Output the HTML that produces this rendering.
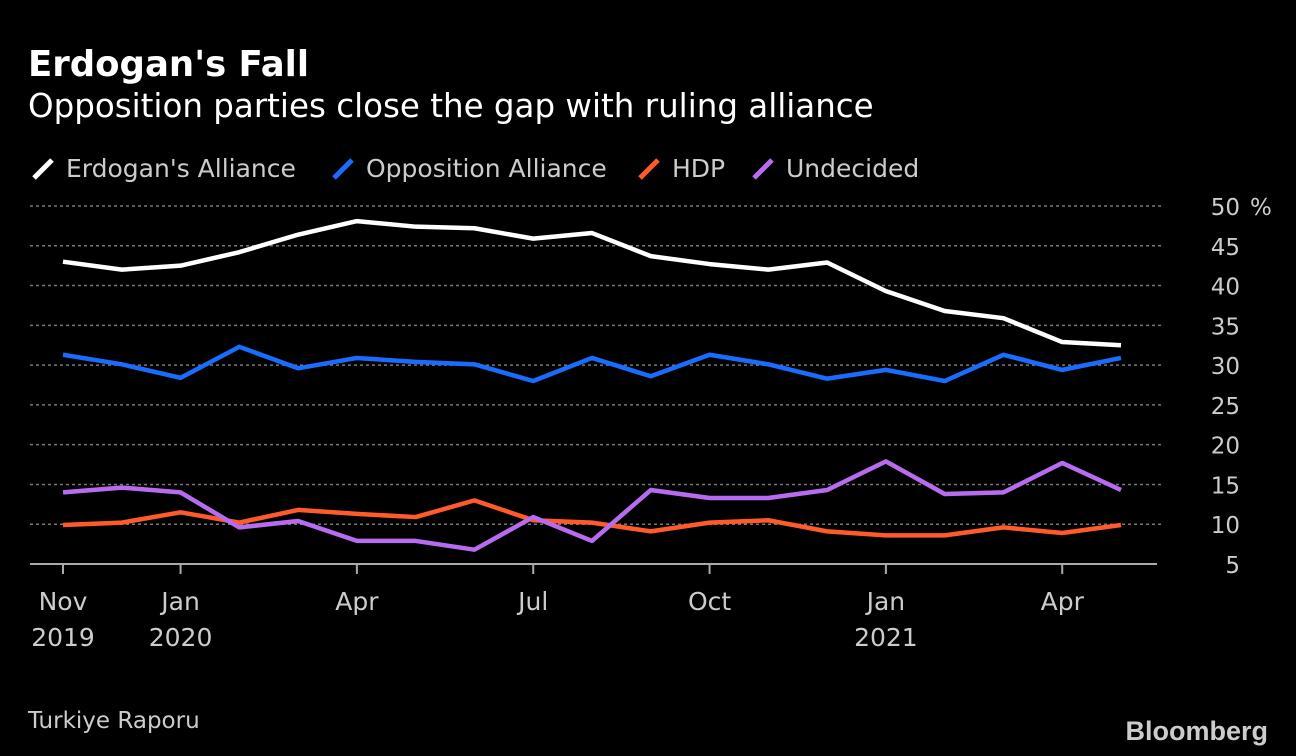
<!DOCTYPE html>
<html><head><meta charset="utf-8"><style>
body{margin:0;background:#000;width:1296px;height:756px;overflow:hidden;font-family:"DejaVu Sans",sans-serif;color:#fff}
svg{position:absolute;left:0;top:0;font-family:"DejaVu Sans",sans-serif}
</style></head><body>
<svg width="1296" height="756" id="c">
<text x="28" y="76" font-size="35.5" font-weight="bold" fill="#fff">Erdogan's Fall</text>
<text x="28" y="117" font-size="32.5" fill="#fff">Opposition parties close the gap with ruling alliance</text>
<text x="28" y="728" font-size="23" fill="#ccc">Turkiye Raporu</text>
<text x="1268" y="740" font-size="27" font-weight="bold" fill="#ccc" text-anchor="end" font-family="Liberation Sans">Bloomberg</text>
<g id="legend"></g>
<g id="grid"></g><g id="lines"></g>
</svg>
<script>
const months=["Nov","Dec","Jan","Feb","Mar","Apr","May","Jun","Jul","Aug","Sep","Oct","Nov","Dec","Jan","Feb","Mar","Apr","May"];
const erdogan=[43,42,42.5,44.2,46.4,48.1,47.4,47.2,45.9,46.6,43.7,42.7,42.0,42.9,39.3,36.8,35.9,32.9,32.5];
const opposition=[31.3,30.1,28.4,32.3,29.6,30.9,30.4,30.1,28.0,30.9,28.6,31.3,30.1,28.3,29.4,28.0,31.3,29.4,30.9];
const hdp=[9.9,10.2,11.5,10.2,11.8,11.3,10.9,13.0,10.5,10.2,9.1,10.2,10.5,9.1,8.6,8.6,9.6,8.9,9.9];
const undecided=[14.0,14.6,14.0,9.6,10.4,7.9,7.9,6.8,10.9,7.9,14.3,13.3,13.3,14.3,17.9,13.8,14.0,17.7,14.3];
const yTicks=[5,10,15,20,25,30,35,40,45,50];
const xLabelIdx=[0,2,5,8,11,14,17];
const xLabels=[["Nov","2019"],["Jan","2020"],["Apr",""],["Jul",""],["Oct",""],["Jan","2021"],["Apr",""]];
const series=[["erdogans-alliance","Erdogan's Alliance","#fff",erdogan],["opposition-alliance","Opposition Alliance","#1a6cff",opposition],["hdp","HDP","#ff5a2a",hdp],["undecided","Undecided","#b76cf0",undecided]];
const NS="http://www.w3.org/2000/svg";
const x=i=>63+i*(1121-63)/18;
const y=v=>564-(v-5)*(564-206)/45;
function mk(t,a,p){const e=document.createElementNS(NS,t);for(const k in a)e.setAttribute(k,a[k]);p.appendChild(e);return e;}
const g=document.getElementById('grid');
yTicks.forEach((v,i)=>{
 if(v>5){const l=mk('line',{x1:30,x2:1163,y1:y(v),y2:y(v),stroke:'#777','stroke-width':1.5,'stroke-dasharray':'3,3'},g);
 
 }
 const t=mk('text',{x:1240,y:y(v)+9,'font-size':23,fill:'#ccc','text-anchor':'end'},g);
 t.textContent=v;
 
 
 if(v==50){const p=mk('text',{x:1250,y:y(v)+9,'font-size':23,fill:'#ccc'},g);p.textContent='%';
 
 }
});
const ax=mk('line',{x1:30,x2:1157,y1:564,y2:564,stroke:'#aaa','stroke-width':2},g);


xLabelIdx.forEach((idx,k)=>{
 const tk=mk('line',{x1:x(idx),x2:x(idx),y1:564,y2:574,stroke:'#aaa','stroke-width':2},g);
 
 
 xLabels[k].forEach((s,j)=>{if(!s)return;const t=mk('text',{x:x(idx),y:610+j*36,'font-size':25,fill:'#ccc','text-anchor':'middle'},g);t.textContent=s;
 
 });
});
const L=document.getElementById('lines');
series.forEach(s=>{
 const p=mk('polyline',{points:s[3].map((v,i)=>x(i)+','+y(v)).join(' '),fill:'none',stroke:s[2],'stroke-width':4.5,'stroke-linejoin':'round'},L);
 
 
});
const lg=document.getElementById('legend');
const lx=[30,330,636,750];
series.forEach((s,i)=>{
 const e=mk('g',{},lg);
 
 
 mk('line',{x1:lx[i]+4,y1:178,x2:lx[i]+22,y2:160,stroke:s[2],'stroke-width':5},e);
 const t=mk('text',{x:lx[i]+36,y:177,'font-size':25,fill:'#ccc'},e);t.textContent=s[1];
});
</script>
</body></html>
